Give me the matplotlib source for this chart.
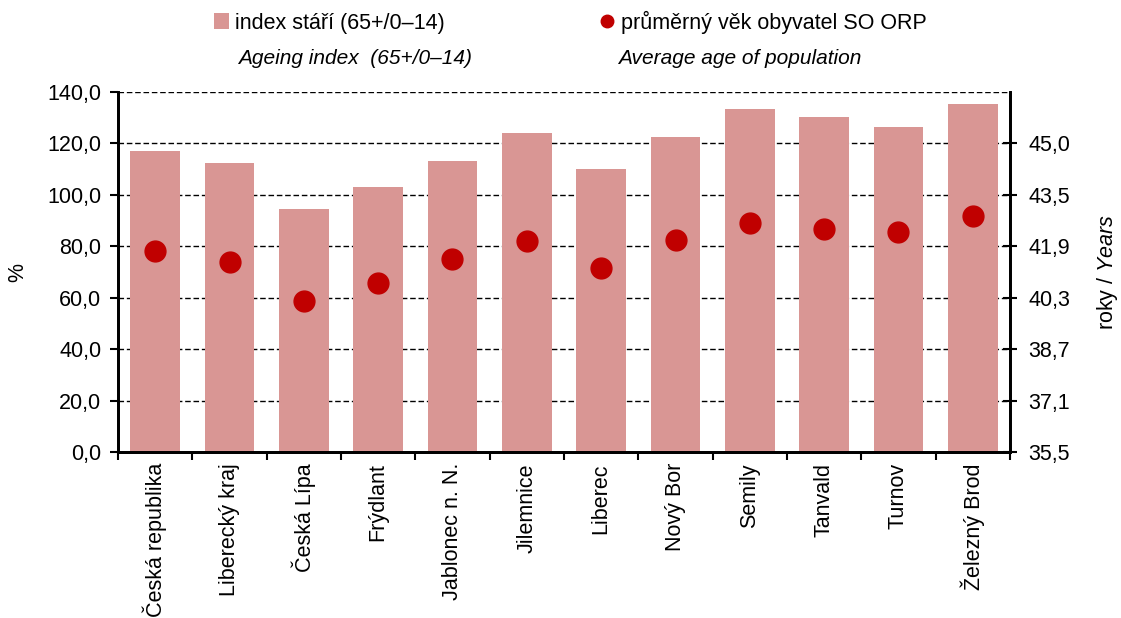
import matplotlib
matplotlib.use("Agg")
import matplotlib.pyplot as plt
from matplotlib.lines import Line2D
from matplotlib.patches import Patch
import numpy as np

plt.rcParams["font.family"] = ["Liberation Sans", "DejaVu Sans"]
plt.rcParams["mathtext.fontset"] = "custom"
plt.rcParams["mathtext.it"] = "Liberation Sans:italic"
plt.rcParams["mathtext.rm"] = "Liberation Sans"

# data
categories = ["Česká republika", "Liberecký kraj", "Česká Lípa", "Frýdlant",
              "Jablonec n. N.", "Jilemnice", "Liberec", "Nový Bor", "Semily",
              "Tanvald", "Turnov", "Železný Brod"]
ageing_index = [117.1, 112.4, 94.5, 103.1, 113.2, 124.1, 110.1, 122.5,
                133.4, 130.3, 126.4, 135.3]
average_age = [41.69, 41.35, 40.15, 40.70, 41.44, 41.99, 41.17, 42.02,
               42.55, 42.36, 42.27, 42.77]
left_ticks = [0, 20, 40, 60, 80, 100, 120, 140]
right_tick_labels = ["35,5", "37,1", "38,7", "40,3", "41,9", "43,5", "45,0"]

BAR = "#D99694"
DOT = "#C00000"
FS = 15.5

fig = plt.figure(figsize=(11.21, 6.18), dpi=100)
ax = fig.add_axes([118 / 1121, 1 - 452 / 618, 892 / 1121, 360 / 618])

x = np.arange(len(categories))
ax.bar(x, ageing_index, width=0.67, color=BAR, zorder=2)
ax.set_xlim(-0.5, len(categories) - 0.5)
ax.set_ylim(0, 140)
ax.set_yticks(left_ticks)
ax.set_yticklabels([f"{v:.1f}".replace(".", ",") for v in left_ticks], fontsize=FS)
for v in left_ticks[1:]:
    ax.axhline(v, color="black", lw=1, ls=(0, (4, 2)), zorder=1)

ax.set_xticks(x)
ax.set_xticklabels(categories, rotation=90, fontsize=FS, va="top")
ax.set_xticks(np.arange(-0.5, len(categories)), minor=True)
ax.tick_params(axis="x", which="major", length=0, pad=8)
ax.tick_params(axis="x", which="minor", length=6, width=1.5, direction="out")
ax.tick_params(axis="y", length=6, width=1.5, direction="out", pad=6)
ax.set_ylabel("%", fontsize=FS, labelpad=14)

for s in ["left", "bottom", "right"]:
    ax.spines[s].set_linewidth(2)
ax.spines["top"].set_visible(False)

# secondary axis for average age
step = (45.0 - 35.5) / 6
ax2 = ax.twinx()
ax2.set_ylim(35.5, 35.5 + 7 * step)
ax2.set_yticks([35.5 + k * step for k in range(len(right_tick_labels))])
ax2.set_yticklabels(right_tick_labels, fontsize=FS)
ax2.tick_params(axis="y", length=10, width=1.5, direction="inout", pad=8)
ax2.plot(x, average_age, "o", color=DOT, markersize=15, zorder=3)
ax2.set_ylabel(r"roky / $\it{Years}$", fontsize=FS, labelpad=18)
for s in ["left", "bottom", "right"]:
    ax2.spines[s].set_linewidth(2)
ax2.spines["top"].set_visible(False)

handles = [Patch(facecolor=BAR, edgecolor="none"),
           Line2D([], [], marker="o", color=DOT, ls="none", markersize=9)]
labels = ["index stáří (65+/0–14)", "průměrný věk obyvatel SO ORP"]
fig.legend(handles, labels, ncol=2, loc="center left",
           bbox_to_anchor=(205 / 1121, 1 - 22 / 618), frameon=False,
           fontsize=FS, handlelength=0.7, handletextpad=0.3,
           columnspacing=7.2, borderaxespad=0)

fig.text(355 / 1121, 1 - 58 / 618, "Ageing index  (65+/0–14)", style="italic",
         fontsize=15, ha="center", va="center")
fig.text(740 / 1121, 1 - 58 / 618, "Average age of population", style="italic",
         fontsize=15, ha="center", va="center")

fig.savefig("out.png", dpi=100)
